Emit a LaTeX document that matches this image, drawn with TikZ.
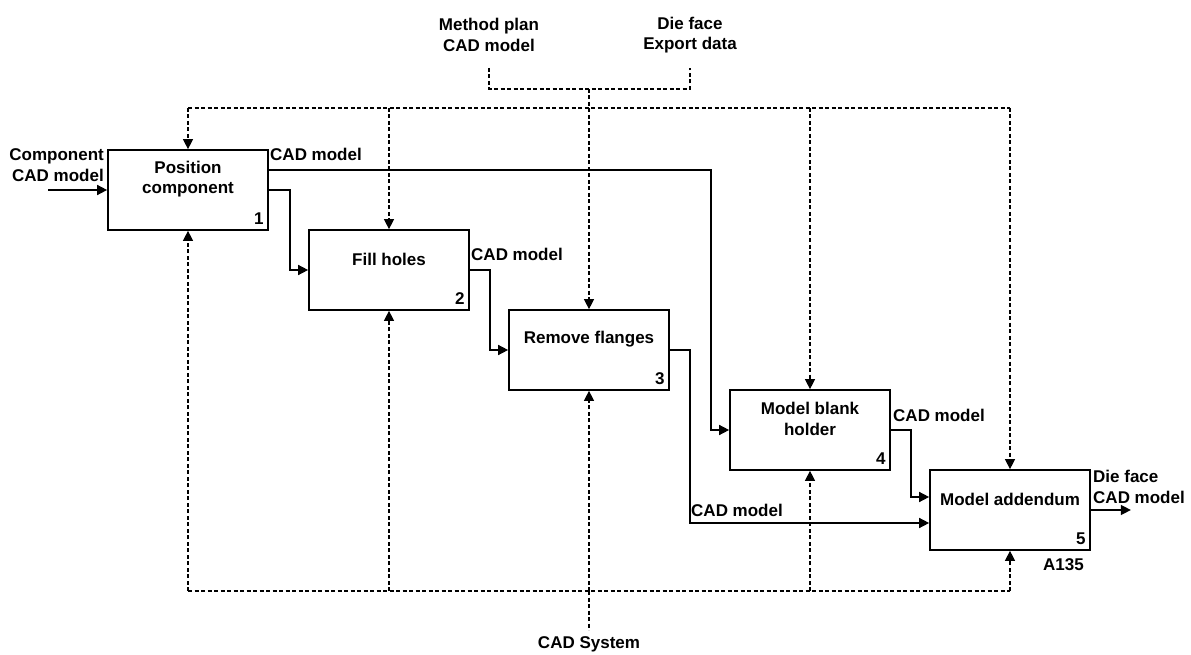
\documentclass[tikz,border=0pt]{standalone}
\usepackage{fontspec}
\setmainfont{Liberation Sans}
\usetikzlibrary{arrows.meta}
\begin{document}
\begin{tikzpicture}[x=1pt,y=-1pt,
  every node/.style={font=\fontsize{17}{20.5}\selectfont\bfseries, inner sep=0pt},
  box/.style={draw,line width=1.7pt,minimum width=160pt,minimum height=80pt},
  title/.style={align=center},
  num/.style={anchor=base east},
  lbl/.style={anchor=base west},
  flow/.style={line width=1.5pt,-{Triangle[length=10pt,width=10pt]}},
  ctrl/.style={line width=1.2pt,dash pattern=on 4pt off 2.5pt},
  ctrlarrow/.style={ctrl,-{Triangle[length=10pt,width=10pt]}},
]
\useasboundingbox (0,0) rectangle (1191,655);

% activity boxes
\node[box] (b1) at (188,190) {};
\node[box] (b2) at (389,270) {};
\node[box] (b3) at (589,350) {};
\node[box] (b4) at (810,430) {};
\node[box] (b5) at (1010,510) {};

\node[title] (t1) at ([yshift=11pt]b1.center) {Position\\component};
\node[title] (t2) at ([yshift=11pt]b2.center) {Fill holes};
\node[title] (t3) at ([yshift=11pt]b3.center) {Remove flanges};
\node[title] (t4) at ([yshift=11pt]b4.center) {Model blank\\holder};
\node[title] (t5) at ([yshift=11pt]b5.center) {Model addendum};

\node[num] (n1) at ([xshift=-5pt,yshift=6pt]b1.south east) {1};
\node[num] (n2) at ([xshift=-5pt,yshift=6pt]b2.south east) {2};
\node[num] (n3) at ([xshift=-5pt,yshift=6pt]b3.south east) {3};
\node[num] (n4) at ([xshift=-5pt,yshift=6pt]b4.south east) {4};
\node[num] (n5) at ([xshift=-5pt,yshift=6pt]b5.south east) {5};
\node[lbl] (a135) at (1043,570) {A135};

% input and output
\coordinate (in) at (48,190);
\node[align=right,anchor=east] (inl) at (104,165) {Component\\CAD model};
\draw[flow] (in) -- (b1.west);

\draw[flow] (b5.east) -- ++(40,0) coordinate (out);
\node[align=left,anchor=west] (outl) at (1093,487) {Die face\\CAD model};

% flows between activities
\draw[flow] ([yshift=20pt]b1.east) -- ++(442,0) |- (b4.west);
\node[lbl] (l1) at (270,161) {CAD model};
\draw[flow] (b1.east) -- ++(21,0) |- (b2.west);
\draw[flow] (b2.east) -- ++(20,0) |- (b3.west);
\node[lbl] (l2) at (471,260) {CAD model};
\draw[flow] (b3.east) -- ++(20,0) |- ([yshift=-13pt]b5.west);
\node[lbl] (l3) at (691,516) {CAD model};
\draw[flow] (b4.east) -- ++(20,0) |- ([yshift=13pt]b5.west);
\node[lbl] (l4) at (893,421) {CAD model};

% controls
\coordinate (top) at (0,108);
\coordinate (mp) at (489,68);
\coordinate (df) at (690,68);
\coordinate (jn) at (589,89);
\node[title] (mpl) at (489,35) {Method plan\\CAD model};
\node[title] (dfl) at (690,35) {Die face\\Export data};
\draw[ctrl] (mp) |- (jn) -| (df);
\draw[ctrl] (b1.north|-top) -- (b5.north|-top);
\draw[ctrlarrow] (jn) -- (b3.north);
\foreach \b in {b1,b2,b4,b5}
  \draw[ctrlarrow] (\b.north|-top) -- (\b.north);

% mechanisms
\coordinate (bot) at (0,591);
\coordinate (cs) at (589,630);
\draw[ctrl] (b1.south|-bot) -- (b5.south|-bot);
\draw[ctrl] (b3.south|-bot) -- (cs);
\node[anchor=base] (csl) at (589,648) {CAD System};
\foreach \b in {b1,b2,b3,b4,b5}
  \draw[ctrlarrow] (\b.south|-bot) -- (\b.south);
\end{tikzpicture}
\end{document}
